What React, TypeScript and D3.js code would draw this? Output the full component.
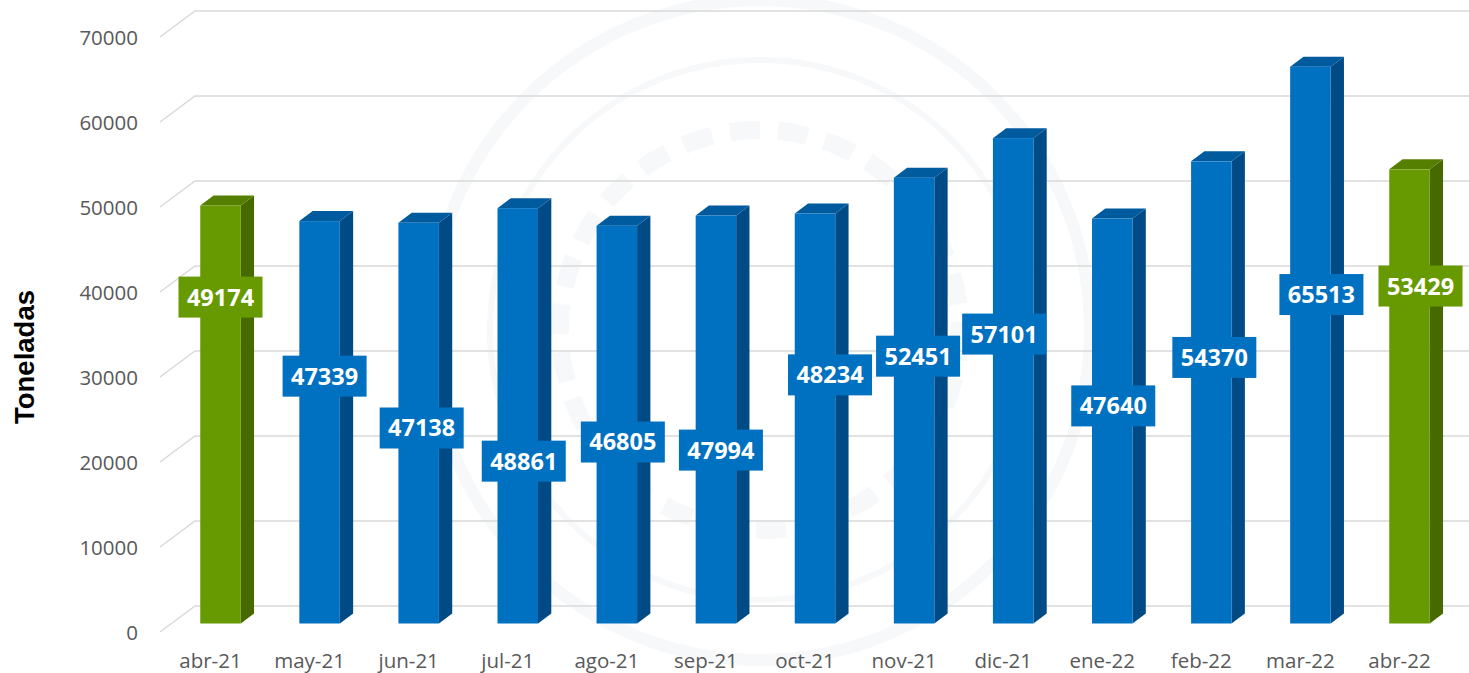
import React from "react";
import * as d3 from "d3";

const categories = ["abr-21","may-21","jun-21","jul-21","ago-21","sep-21","oct-21","nov-21","dic-21","ene-22","feb-22","mar-22","abr-22"];
const values = [49174,47339,47138,48861,46805,47994,48234,52451,57101,47640,54370,65513,53429];
const highlighted = [true,false,false,false,false,false,false,false,false,false,false,false,true];
// value level (tons) at which each data label's centre sits
const labelLevels = [38400,29100,23000,19100,21350,20400,29250,31450,34050,25600,31300,38700,39700];
// manual horizontal nudge of each data label (px)
const labelNudge = [0,5,3,6,6,5,15,4,-9,1,3,11,11];
const yTicks = [0,10000,20000,30000,40000,50000,60000,70000];
const yTitle = "Toneladas";

const W = 1469, H = 673;
const BLUE = { front: "#0070c0", side: "#004a85", top: "#005a9e" };
const GREEN = { front: "#669a00", side: "#466a00", top: "#557f00" };

export default function App() {
  const x = d3.scalePoint<string>().domain(categories).range([220.5, 1409.5]);
  const y = d3.scaleLinear().domain([0, 70000]).range([623.5, 28.5]);
  const gy = d3.scaleLinear().domain([0, 70000]).range([632, 37]);
  const bw = 40.5, dx = 13.3, dz = -10;
  const gFrontX = 160, gBackX = 195, gDy = -26;
  const font = "'Open Sans', sans-serif";

  return (
    <svg width={W} height={H} style={{ position: "fixed", left: 0, top: 0, background: "#fff" }}>
      {/* faint watermark */}
      <g fill="none" stroke="#f1f4f8" opacity={0.6}>
        <circle cx={760} cy={330} r={330} strokeWidth={12} />
        <circle cx={760} cy={330} r={270} strokeWidth={6} />
        <circle cx={760} cy={330} r={200} strokeWidth={18} strokeDasharray="30 18" />
      </g>
      {/* gridlines */}
      <g stroke="#d9d9d9" strokeWidth={1.5} fill="none">
        {yTicks.map((t) => (
          <path key={t} d={`M${gFrontX},${gy(t)}L${gBackX},${gy(t) + gDy}L${W},${gy(t) + gDy}`} />
        ))}
      </g>
      {/* y tick labels */}
      <g fontFamily={font} fontSize={20.5} fill="#595959" textAnchor="end">
        {yTicks.map((t) => (
          <text key={t} x={138} y={gy(t) + 1} dy="0.36em">{t}</text>
        ))}
      </g>
      {/* y title */}
      <text
        transform={`translate(34,357) rotate(-90)`}
        textAnchor="middle"
        fontFamily="'Liberation Sans', Arial, sans-serif"
        fontWeight={700}
        fontSize={27.5}
        fill="#000"
      >{yTitle}</text>
      {/* bars */}
      {categories.map((c, i) => {
        const col = highlighted[i] ? GREEN : BLUE;
        const x0 = (x(c) as number) - bw / 2;
        const x1 = x0 + bw;
        const yt = y(values[i]);
        const yb = y(0);
        return (
          <g key={c}>
            <polygon fill={col.side} points={`${x1},${yt} ${x1 + dx},${yt + dz} ${x1 + dx},${yb + dz} ${x1},${yb}`} />
            <polygon fill={col.top} points={`${x0},${yt} ${x1},${yt} ${x1 + dx},${yt + dz} ${x0 + dx},${yt + dz}`} />
            <rect x={x0} y={yt} width={bw} height={yb - yt} fill={col.front} />
          </g>
        );
      })}
      {/* category labels */}
      <g fontFamily={font} fontSize={20.5} fill="#595959" textAnchor="middle">
        {categories.map((c) => (
          <text key={c} x={(x(c) as number) - 10} y={668}>{c}</text>
        ))}
      </g>
      {/* data labels */}
      {categories.map((c, i) => {
        const col = highlighted[i] ? GREEN : BLUE;
        const cx = (x(c) as number) + labelNudge[i];
        const cy = y(labelLevels[i]);
        return (
          <g key={"l" + c}>
            <rect x={cx - 42} y={cy - 20.5} width={84} height={41} fill={col.front} />
            <text x={cx} y={cy} dy="0.36em" textAnchor="middle" fontFamily={font} fontWeight={700} fontSize={23.5} fill="#fff">
              {values[i]}
            </text>
          </g>
        );
      })}
    </svg>
  );
}
